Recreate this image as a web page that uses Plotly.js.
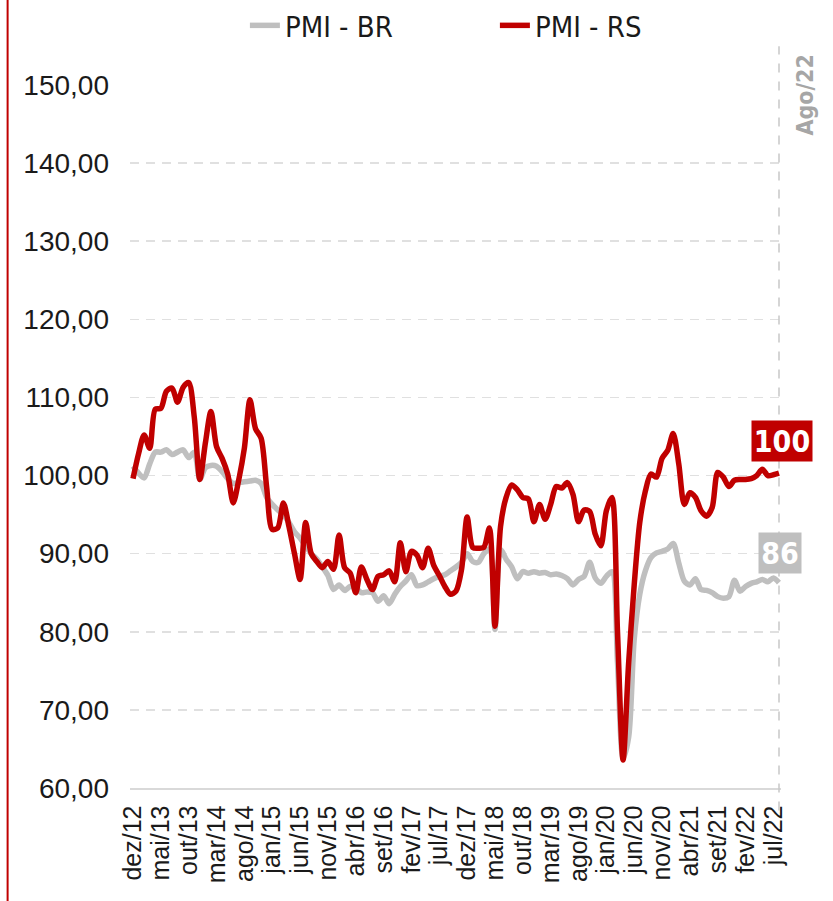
<!DOCTYPE html>
<html>
<head>
<meta charset="utf-8">
<script src="https://cdn.plot.ly/plotly-3.0.1.min.js"></script>
<style>
  html, body { margin: 0; padding: 0; background: #ffffff; }
  #chart { width: 833px; height: 901px; }
</style>
</head>
<body>
<div id="chart"></div>
<script>
// ---- Data (monthly, dez/12 .. ago/22) ----
const monthAbbr = ['jan','fev','mar','abr','mai','jun','jul','ago','set','out','nov','dez'];
const startYear = 2012, startMonth = 11, nMonths = 117;
const categories = [];
for (let k = 0; k < nMonths; k++) {
  const m = (startMonth + k) % 12;
  const y = startYear + Math.floor((startMonth + k) / 12);
  categories.push(monthAbbr[m] + '/' + String(y).slice(2));
}

const tickLabels = ['dez/12','mai/13','out/13','mar/14','ago/14','jan/15','jun/15','nov/15',
  'abr/16','set/16','fev/17','jul/17','dez/17','mai/18','out/18','mar/19','ago/19','jan/20',
  'jun/20','nov/20','abr/21','set/21','fev/22','jul/22'];

const pmiBR = [
  101.2,100.3,99.7,101.5,103.0,103.0,103.3,102.7,103.0,103.3,
  102.3,103.0,99.5,101.0,101.3,101.2,100.5,99.6,99.0,99.1,
  99.2,99.3,99.4,99.0,97.2,96.3,95.6,95.0,94.0,92.8,
  92.0,91.0,90.0,89.3,88.3,87.2,85.4,86.0,85.3,85.8,
  85.6,85.0,85.1,85.0,83.9,84.6,83.6,84.8,85.8,86.5,
  87.3,85.9,86.0,86.4,86.8,87.1,87.3,87.8,88.3,88.9,
  90.0,89.0,88.9,90.0,90.6,80.3,90.5,89.3,88.3,86.8,
  87.7,87.5,87.7,87.5,87.6,87.3,87.4,87.2,86.8,86.0,
  86.7,87.1,88.9,86.9,86.2,87.1,87.7,76.0,63.8,66.5,
  79.0,84.8,87.8,89.5,90.1,90.3,90.6,91.3,88.8,86.5,
  86.0,86.8,85.4,85.3,85.0,84.5,84.3,84.5,86.6,85.2,
  85.8,86.2,86.4,86.7,86.4,86.9,86.3
];

const pmiRS = [
  99.6,102.8,105.2,103.5,108.5,108.6,110.8,111.2,109.4,111.3,
  111.9,107.5,99.5,104.2,108.2,103.7,102.2,100.2,96.5,99.5,
  103.5,109.7,106.0,104.8,98.5,93.1,93.3,96.5,93.5,90.0,
  86.7,94.0,90.0,89.0,88.2,89.0,88.0,92.4,88.2,87.5,
  85.0,88.3,86.7,85.4,87.1,87.3,87.8,86.4,91.4,87.7,
  90.3,89.8,88.2,90.7,88.5,87.2,85.8,84.8,85.2,88.0,
  94.7,90.8,90.7,90.8,93.3,80.7,93.5,97.2,98.8,98.2,
  97.2,97.0,94.1,96.3,94.4,96.3,98.6,98.4,99.1,97.6,
  94.1,95.6,95.4,92.5,91.0,95.5,97.2,80.0,63.6,76.0,
  86.0,94.0,98.0,100.2,99.8,102.2,103.2,105.4,101.5,96.3,
  97.8,97.2,95.5,94.8,95.9,100.4,99.8,98.6,99.4,99.5,
  99.5,99.6,100.0,100.8,100.0,100.1,100.3
];

const lastCat = categories[categories.length - 1];
const lastBR = pmiBR[pmiBR.length - 1];
const lastRS = pmiRS[pmiRS.length - 1];

const NARROW = '"Liberation Sans Narrow", "DejaVu Sans Condensed", "Liberation Sans", sans-serif';
const TICKFONT = '"Liberation Sans", Arial, sans-serif';

const traces = [
  {
    type: 'scatter', mode: 'lines', name: 'PMI - BR',
    x: categories, y: pmiBR,
    line: { color: '#bfbfbf', width: 5.5, shape: 'spline', smoothing: 0.8 },
    hoverinfo: 'x+y'
  },
  {
    type: 'scatter', mode: 'lines', name: 'PMI - RS',
    x: categories, y: pmiRS,
    line: { color: '#c00000', width: 5.5, shape: 'spline', smoothing: 0.8 },
    hoverinfo: 'x+y'
  }
];

const layout = {
  width: 833, height: 901,
  margin: { l: 130, r: 52, t: 85, b: 113 },
  paper_bgcolor: '#ffffff', plot_bgcolor: '#ffffff',
  separators: ',.',
  showlegend: true,
  legend: {
    orientation: 'h',
    x: 0.1765, xanchor: 'left',
    y: 1, yref: 'container', yanchor: 'top',
    font: { family: NARROW, size: 29, color: '#1a1a1a' },
    entrywidth: 205, entrywidthmode: 'pixels',
    traceorder: 'normal',
    bgcolor: 'rgba(0,0,0,0)'
  },
  xaxis: {
    type: 'category',
    range: [-0.54, 116.36],
    tickmode: 'array', tickvals: tickLabels, ticktext: tickLabels,
    tickangle: -90,
    tickfont: { family: TICKFONT, size: 25, color: '#1a1a1a' },
    ticks: '', ticklabelstandoff: 6,
    showgrid: false, zeroline: false,
    showline: true, linecolor: '#d9d9d9', linewidth: 1.5,
    fixedrange: true
  },
  yaxis: {
    range: [60, 150],
    tickmode: 'linear', tick0: 60, dtick: 10,
    tickformat: '.2f',
    tickfont: { family: TICKFONT, size: 28, color: '#1a1a1a' },
    ticks: '', ticklabelstandoff: 20,
    showgrid: true, gridcolor: '#e0e0e0', gridwidth: 1.5, griddash: '9px,7px',
    zeroline: false, showline: false,
    fixedrange: true
  },
  shapes: [
    // vertical dashed marker at the last month
    { type: 'line', xref: 'x', yref: 'paper', x0: lastCat, x1: lastCat, y0: -0.032, y1: 1.055,
      line: { color: '#c8c8c8', width: 1.5, dash: 'dash' } },
    // red left border of the figure
    { type: 'line', xref: 'paper', yref: 'paper', x0: -0.188, x1: -0.188, y0: -0.17, y1: 1.13,
      line: { color: '#c00000', width: 2 } }
  ],
  annotations: [
    { xref: 'x', yref: 'paper', x: lastCat, y: 0.985, xshift: 26,
      xanchor: 'center', yanchor: 'middle',
      text: '<b>Ago/22</b>', textangle: -90, showarrow: false,
      font: { family: NARROW, size: 23, color: '#a6a6a6' } },
    { xref: 'x', yref: 'y', x: lastCat, y: lastRS, xshift: 3, yshift: 32,
      text: '<b>' + Math.round(lastRS) + '</b>', showarrow: false,
      bgcolor: '#c00000', width: 58, height: 38, borderpad: 1,
      font: { family: NARROW, size: 30, color: '#ffffff' } },
    { xref: 'x', yref: 'y', x: lastCat, y: lastBR, xshift: 1, yshift: 30,
      text: '<b>' + Math.round(lastBR) + '</b>', showarrow: false,
      bgcolor: '#bfbfbf', width: 40, height: 38, borderpad: 1,
      font: { family: NARROW, size: 30, color: '#ffffff' } }
  ]
};

Plotly.newPlot('chart', traces, layout, { displayModeBar: false, staticPlot: true });
</script>
</body>
</html>
